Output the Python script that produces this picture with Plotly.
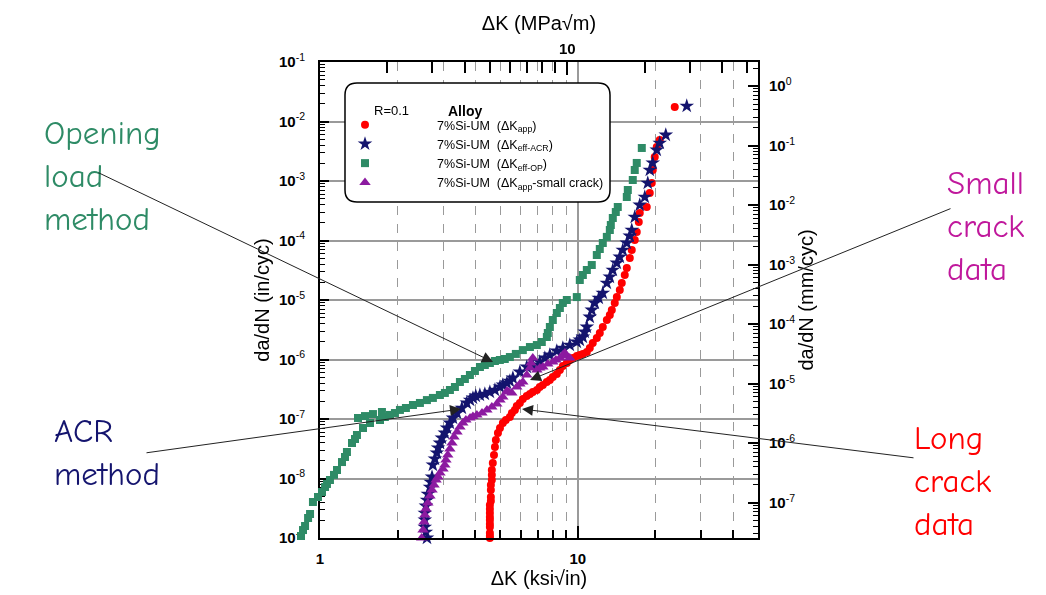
import math
import plotly.graph_objects as go

# Values: ΔK in ksi√in, da/dN in in/cycle
red_dk = [4.56, 4.56, 4.56, 4.56, 4.56, 4.56, 4.56, 4.56, 4.56, 4.56, 4.60, 4.60, 4.60, 4.60,
          4.64, 4.64, 4.64, 4.68, 4.73, 4.77, 4.81, 4.90, 4.99, 5.12, 5.26, 5.45, 5.55, 5.70,
          5.80, 5.96, 6.12, 6.34, 6.52, 6.69, 6.94, 7.12, 7.32, 7.58, 7.79, 8.00, 8.29, 8.52,
          8.75, 9.07, 9.31, 9.56, 9.91, 10.18, 10.46, 10.84, 11.13, 11.43, 11.85, 12.17, 12.50,
          12.96, 13.31, 13.55, 13.91, 14.17, 14.55, 14.81, 15.21, 15.49, 15.91, 16.19, 16.63,
          16.93, 17.24, 17.39, 18.51, 19.02, 19.36, 19.53, 19.88, 20.24, 20.79, 23.77]
red_dadn = [1.0e-9, 1.08e-9, 1.21e-9, 1.53e-9, 1.72e-9, 2.01e-9, 2.25e-9, 2.63e-9, 3.07e-9,
            3.59e-9, 4.19e-9, 4.89e-9, 6.41e-9, 7.78e-9, 9.44e-9, 1.15e-8, 1.39e-8, 1.82e-8,
            2.48e-8, 3.38e-8, 4.43e-8, 5.82e-8, 7.06e-8, 8.57e-8, 9.62e-8, 1.08e-7, 1.26e-7,
            1.42e-7, 1.65e-7, 1.86e-7, 2.17e-7, 2.44e-7, 2.63e-7, 2.84e-7, 3.07e-7, 3.45e-7,
            3.73e-7, 4.19e-7, 4.52e-7, 5.08e-7, 5.70e-7, 6.66e-7, 7.78e-7, 8.73e-7, 9.82e-7,
            1.06e-6, 1.15e-6, 1.19e-6, 1.24e-6, 1.34e-6, 1.56e-6, 1.89e-6, 2.30e-6, 2.79e-6,
            3.52e-6, 4.61e-6, 5.60e-6, 6.79e-6, 8.91e-6, 1.12e-5, 1.47e-5, 1.93e-5, 2.63e-5,
            3.45e-5, 5.08e-5, 6.92e-5, 1.02e-4, 1.39e-4, 2.05e-4, 2.90e-4, 3.66e-4, 6.28e-4,
            9.25e-4, 1.53e-3, 2.53e-3, 3.72e-3, 4.89e-3, 1.75e-2]

acr_dk = [2.60, 2.575, 2.55, 2.55, 2.55, 2.575, 2.60, 2.62, 2.67, 2.69, 2.72, 2.74, 2.79, 2.84,
          2.87, 2.92, 2.97, 3.05, 3.11, 3.19, 3.28, 3.40, 3.55, 3.71, 3.82, 3.92, 4.02, 4.17,
          4.36, 4.56, 4.77, 4.99, 5.12, 5.31, 5.45, 5.60, 5.96, 6.34, 6.69, 7.12, 7.45, 7.79,
          8.29, 8.75, 9.31, 9.91, 10.18, 10.46, 10.64, 10.84, 11.13, 11.33, 11.64, 12.06, 12.50,
          12.96, 13.31, 13.67, 14.17, 14.55, 14.94, 15.49, 15.91, 16.19, 16.63, 17.39, 18.19,
          18.68, 19.02, 19.53, 20.24, 20.79, 21.94, 26.46]
acr_dadn = [1.0e-9, 1.26e-9, 1.53e-9, 2.01e-9, 2.63e-9, 3.45e-9, 4.35e-9, 5.48e-9, 7.19e-9,
            8.73e-9, 1.06e-8, 1.69e-8, 2.13e-8, 2.69e-8, 3.26e-8, 3.95e-8, 4.80e-8, 5.82e-8,
            7.06e-8, 8.57e-8, 1.04e-7, 1.26e-7, 1.53e-7, 1.86e-7, 2.08e-7, 2.26e-7, 2.44e-7,
            2.53e-7, 2.63e-7, 2.84e-7, 3.07e-7, 3.45e-7, 3.73e-7, 4.03e-7, 4.35e-7, 4.89e-7,
            6.17e-7, 7.48e-7, 8.09e-7, 9.08e-7, 1.06e-6, 1.19e-6, 1.39e-6, 1.56e-6, 1.75e-6,
            1.97e-6, 2.13e-6, 2.39e-6, 2.90e-6, 3.52e-6, 5.18e-6, 6.79e-6, 8.91e-6, 1.08e-5,
            1.31e-5, 1.93e-5, 2.44e-5, 3.19e-5, 4.19e-5, 5.28e-5, 6.92e-5, 9.08e-5, 1.19e-4,
            1.50e-4, 2.48e-4, 3.95e-4, 5.38e-4, 9.25e-4, 1.53e-3, 2.01e-3, 3.32e-3, 4.35e-3,
            5.93e-3, 1.82e-2]

op_dk = [0.844, 0.859, 0.875, 0.899, 0.915, 0.939, 0.982, 1.018, 1.046, 1.064, 1.093, 1.133,
         1.164, 1.217, 1.250, 1.272, 1.331, 1.367, 1.391, 1.404, 1.468, 1.495, 1.563, 1.605,
         1.709, 1.739, 1.785, 1.868, 1.953, 2.042, 2.154, 2.294, 2.441, 2.598, 2.741, 2.918,
         3.051, 3.191, 3.337, 3.489, 3.648, 3.815, 3.990, 4.172, 4.360, 4.560, 4.770, 4.985,
         5.210, 5.451, 5.750, 6.120, 6.520, 6.936, 7.250, 7.584, 7.650, 7.791, 8.000, 8.292,
         8.520, 8.747, 9.066, 9.911, 10.18, 10.46, 10.84, 11.33, 11.85, 12.17, 12.50, 12.96,
         13.31, 13.43, 13.67, 14.04, 14.29, 15.49, 15.63, 16.34, 16.63, 16.93, 17.71]
op_dadn = [1.08e-9, 1.36e-9, 1.59e-9, 2.17e-9, 2.53e-9, 4.03e-9, 4.89e-9, 5.93e-9, 7.19e-9,
           8.09e-9, 9.44e-9, 1.15e-8, 1.39e-8, 1.89e-8, 2.30e-8, 2.79e-8, 3.95e-8, 4.61e-8,
           5.38e-8, 1.04e-7, 7.06e-8, 1.12e-7, 8.57e-8, 1.21e-7, 9.62e-8, 1.31e-7, 1.08e-7,
           1.17e-7, 1.26e-7, 1.42e-7, 1.53e-7, 1.72e-7, 1.86e-7, 2.08e-7, 2.26e-7, 2.53e-7,
           2.74e-7, 3.07e-7, 3.45e-7, 4.19e-7, 4.70e-7, 5.49e-7, 6.41e-7, 7.48e-7, 8.09e-7,
           8.73e-7, 9.44e-7, 9.82e-7, 1.02e-6, 1.10e-6, 1.24e-6, 1.44e-6, 1.62e-6, 1.75e-6,
           1.97e-6, 2.39e-6, 2.79e-6, 3.52e-6, 4.61e-6, 6.05e-6, 7.34e-6, 8.91e-6, 1.0e-5,
           1.12e-5, 2.17e-5, 2.63e-5, 3.19e-5, 3.87e-5, 5.70e-5, 7.19e-5, 9.08e-5, 1.15e-4,
           1.50e-4, 1.82e-4, 2.39e-4, 3.01e-4, 3.66e-4, 5.38e-4, 7.06e-4, 1.04e-3, 1.53e-3,
           2.01e-3, 3.59e-3]

small_dk = [2.48, 2.51, 2.53, 2.55, 2.575, 2.62, 2.67, 2.72, 2.77, 2.82, 2.87, 2.92, 3.00,
            3.05, 3.08, 3.13, 3.19, 3.25, 3.31, 3.40, 3.49, 3.58, 3.68, 3.82, 3.92, 4.06, 4.25,
            4.44, 4.64, 4.85, 4.99, 5.12, 5.31, 5.40, 5.55, 5.80, 5.96, 6.12, 6.34, 6.52, 6.58,
            6.69, 6.94, 7.12, 7.32, 7.65, 8.00, 8.22, 8.52, 8.75, 8.91, 9.07, 9.31]
small_dadn = [1.0e-9, 1.36e-9, 1.86e-9, 2.44e-9, 3.07e-9, 3.87e-9, 5.08e-9, 6.41e-9, 7.78e-9,
              9.44e-9, 1.06e-8, 1.24e-8, 1.45e-8, 1.69e-8, 2.05e-8, 2.48e-8, 3.13e-8, 3.95e-8,
              4.98e-8, 6.05e-8, 7.34e-8, 8.57e-8, 9.62e-8, 1.04e-7, 1.10e-7, 1.17e-7, 1.26e-7,
              1.42e-7, 1.59e-7, 1.79e-7, 2.08e-7, 2.34e-7, 2.96e-7, 2.84e-7, 2.74e-7, 3.45e-7,
              3.87e-7, 4.19e-7, 5.49e-7, 7.19e-7, 8.73e-7, 1.06e-6, 6.66e-7, 7.19e-7, 7.48e-7,
              8.40e-7, 9.08e-7, 9.82e-7, 1.06e-6, 1.19e-6, 1.29e-6, 1.15e-6, 1.06e-6]

KSI_TO_MPA = 1.0988   # ksi√in -> MPa√m
IN_TO_MM = 25.4       # in/cyc -> mm/cyc
DK_MAX = 50

RED = '#ff0000'
NAVY = '#14146e'
GREEN = '#2e8b66'
PURPLE = '#8c1aa0'
MAGENTA = '#c0189c'
FONT = 'Arial, Liberation Sans, sans-serif'
HAND = 'Comic Sans MS, Comic Neue, Noto Sans, sans-serif'
PAD = '\u00a0' * 15

# page pixels (the html body adds an 8px offset)
BODY = 8
AREA_L, FRAME_L, FRAME_R, FRAME_T, FRAME_B = 290, 320, 758, 62, 538
AREA_W = FRAME_R - AREA_L
FRAME_H = FRAME_B - FRAME_T
dom0 = (FRAME_L - AREA_L) / AREA_W
xlog_max = math.log10(DK_MAX)
# wider hidden axis with the same scale, so the opening-load points below 1 stay visible
x3_min = -xlog_max * (FRAME_L - AREA_L) / (FRAME_R - FRAME_L)


def px(x):
    return (x - AREA_L) / AREA_W


def py(y):
    return (FRAME_B - y) / FRAME_H


fig = go.Figure()
series = [
    (red_dk, red_dadn, 'circle', 8, RED, '7%Si-UM  (ΔK<sub>app</sub>)', 'x', 'y'),
    (acr_dk, acr_dadn, 'star', 11, NAVY, '7%Si-UM  (ΔK<sub>eff-ACR</sub>)', 'x', 'y'),
    (op_dk, op_dadn, 'square', 8, GREEN, '7%Si-UM  (ΔK<sub>eff-OP</sub>)', 'x3', 'y3'),
    (small_dk, small_dadn, 'triangle-up', 10, PURPLE,
     '7%Si-UM  (ΔK<sub>app</sub>-small crack)', 'x', 'y'),
]
for xs, ys, sym, size, col, name, xa, ya in series:
    fig.add_trace(go.Scatter(x=xs, y=ys, mode='markers', name=PAD + name, cliponaxis=False,
                             xaxis=xa, yaxis=ya,
                             marker=dict(symbol=sym, size=size, color=col, line=dict(width=0))))

# invisible copy on the metric axes so they get drawn
fig.add_trace(go.Scatter(x=[k * KSI_TO_MPA for k in red_dk], y=[v * IN_TO_MM for v in red_dadn],
                         xaxis='x2', yaxis='y2', mode='markers', opacity=0, showlegend=False,
                         hoverinfo='skip'))

minor_x = [2, 3, 4, 5, 6, 7, 8, 9, 20, 30, 40]
minor_x2 = [2, 3, 4, 5, 6, 7, 8, 9, 20, 30, 40, 50]
dec_in = [10 ** e for e in range(-9, 0)]
minor_in = [m * 10 ** e for e in range(-9, -1) for m in range(2, 10)]
dec_mm = [10 ** e for e in range(-7, 1)]
minor_mm = [m * 10 ** e for e in range(-8, 1) for m in range(2, 10)]


def sup_labels(vals):
    return ['<b>10</b><sup>%d</sup>' % round(math.log10(v)) for v in vals]


tickfont = dict(family=FONT, size=15, color='black')
titlefont = dict(family=FONT, size=20, color='black')
common = dict(type='log', ticks='inside', tickcolor='black', tickwidth=1.5, showline=True,
              linecolor='black', linewidth=2, zeroline=False, tickfont=tickfont,
              automargin=False)
hidden = dict(type='log', visible=False, showgrid=False, zeroline=False, automargin=False)

fig.update_layout(
    width=1046 - BODY, height=595 - BODY,
    margin=dict(l=AREA_L - BODY, r=1046 - FRAME_R, t=FRAME_T - BODY, b=595 - FRAME_B),
    plot_bgcolor='rgba(0,0,0,0)', paper_bgcolor='white',
    font=dict(family=FONT, color='black'),
    xaxis=dict(common, domain=[dom0, 1], range=[0, xlog_max], tickvals=[1, 10],
               ticktext=['<b>1</b>', '<b>10</b>'], ticklen=12, ticklabelstandoff=6,
               showgrid=True, gridcolor='#9a9a9a', gridwidth=1.5,
               minor=dict(tickvals=minor_x, ticks='inside', ticklen=8, tickcolor='black',
                          tickwidth=1.5, showgrid=True, gridcolor='#9a9a9a', griddash='dash',
                          gridwidth=1),
               title=dict(text='ΔK (ksi√in)', font=titlefont, standoff=2)),
    xaxis2=dict(common, overlaying='x', side='top',
                range=[math.log10(KSI_TO_MPA), math.log10(DK_MAX * KSI_TO_MPA)],
                tickvals=[10], ticktext=['<b>10</b>'], ticklen=13, showgrid=False,
                minor=dict(tickvals=minor_x2, ticks='inside', ticklen=11, tickcolor='black',
                           tickwidth=1.5, showgrid=False),
                title=dict(text='ΔK (MPa√m)', font=titlefont, standoff=4)),
    xaxis3=dict(hidden, domain=[0, 1], range=[x3_min, xlog_max], anchor='y3'),
    yaxis=dict(common, range=[-9, -1], tickvals=dec_in, ticktext=sup_labels(dec_in),
               ticklen=9, ticklabelstandoff=10, showgrid=True, gridcolor='#9a9a9a',
               gridwidth=1.5,
               minor=dict(tickvals=minor_in, ticks='inside', ticklen=5, tickcolor='black',
                          tickwidth=1, showgrid=False),
               title=dict(text='da/dN (in/cyc)', font=titlefont, standoff=4)),
    yaxis2=dict(common, overlaying='y', side='right',
                range=[math.log10(1e-9 * IN_TO_MM), math.log10(1e-1 * IN_TO_MM)],
                tickvals=dec_mm, ticktext=sup_labels(dec_mm), ticklen=10,
                ticklabelstandoff=6, showgrid=False,
                minor=dict(tickvals=minor_mm, ticks='inside', ticklen=5, tickcolor='black',
                           tickwidth=1, showgrid=False),
                title=dict(text='da/dN (mm/cyc)', font=titlefont, standoff=0)),
    yaxis3=dict(hidden, domain=[0, 1], range=[-9, -1], anchor='x3'),
    legend=dict(x=px(345), y=py(110), xanchor='left', yanchor='top', bgcolor='rgba(0,0,0,0)',
                borderwidth=0, itemwidth=30, font=dict(family=FONT, size=12.5),
                tracegroupgap=0),
)

# rounded legend box
x0, x1, y0, y1 = px(345), px(610), py(202), py(83)
rx, ry = 12 / AREA_W, 12 / FRAME_H
path = ('M %f,%f L %f,%f Q %f,%f %f,%f L %f,%f Q %f,%f %f,%f L %f,%f Q %f,%f %f,%f '
        'L %f,%f Q %f,%f %f,%f Z') % (
    x0 + rx, y0, x1 - rx, y0, x1, y0, x1, y0 + ry, x1, y1 - ry, x1, y1, x1 - rx, y1,
    x0 + rx, y1, x0, y1, x0, y1 - ry, x0, y0 + ry, x0, y0, x0 + rx, y0)
fig.add_shape(type='path', path=path, xref='paper', yref='paper', layer='above',
              fillcolor='white', line=dict(color='black', width=1.5))

fig.add_annotation(text='R=0.1', x=px(372), y=py(101), xref='paper', yref='paper',
                   showarrow=False, font=dict(family=FONT, size=13))
fig.add_annotation(text='<b>Alloy</b>', x=px(465), y=py(101), xref='paper', yref='paper',
                   showarrow=False, font=dict(family=FONT, size=14))

# callout labels (left, top in page pixels)
labels = [
    ('Opening<br>load<br>method', GREEN, 42, 112),
    ('ACR<br>method', NAVY, 52, 410),
    ('Small<br>crack<br>data', MAGENTA, 945, 162),
    ('Long<br>crack<br>data', RED, 912, 417),
]
for text, col, x, y in labels:
    fig.add_annotation(text=text, x=px(x), y=py(y), xref='paper', yref='paper',
                       xanchor='left', yanchor='top', align='left', showarrow=False,
                       font=dict(family=HAND, size=33, color=col))

# pointer arrows: tip and tail in page pixels
arrows = [((493, 362), (97, 172)), ((461, 409), (145, 453)),
          ((530, 380), (952, 208)), ((522, 409), (915, 458))]
for (tx, ty), (sx, sy) in arrows:
    fig.add_annotation(x=px(tx), y=py(ty), xref='paper', yref='paper', ax=sx - tx, ay=sy - ty,
                       text='', showarrow=True, arrowhead=2, arrowsize=2.2, arrowwidth=1,
                       arrowcolor='#222222')

fig.write_html("out.html")
